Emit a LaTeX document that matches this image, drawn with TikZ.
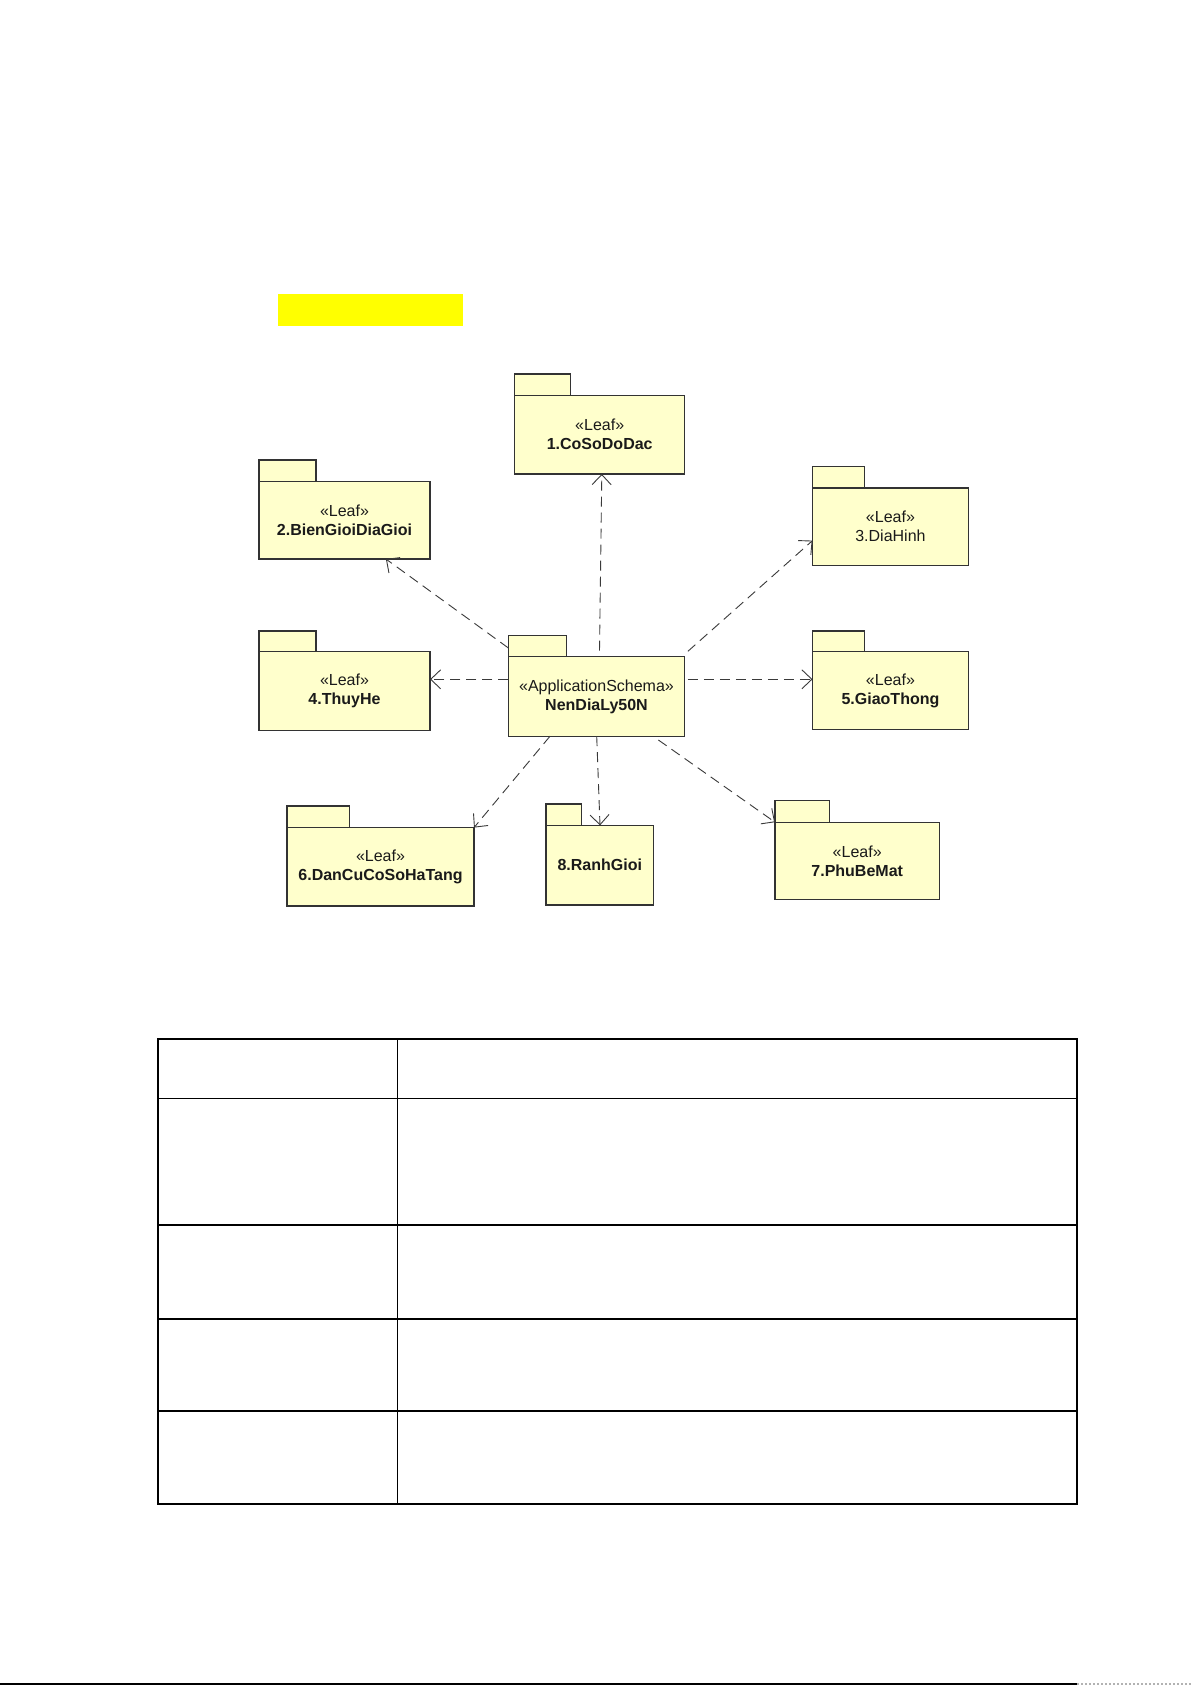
\documentclass[tikz,border=0pt]{standalone}
\usepackage{fontspec}
\setmainfont{Liberation Sans}
\usetikzlibrary{arrows.meta,calc}
\definecolor{pkgfill}{HTML}{FFFFCC}
\definecolor{pkgdraw}{HTML}{333333}
\definecolor{deplin}{HTML}{3A3A3A}
\definecolor{txtcol}{HTML}{1A1A1A}
\definecolor{hilite}{HTML}{FFFF00}
\tikzset{
  pkgbox/.style={draw=pkgdraw, fill=pkgfill, line width=1.15pt, anchor=north west,
    outer sep=0pt, inner sep=0pt, align=center, text=txtcol,
    font=\fontsize{16}{19}\selectfont},
  pkgtab/.style={draw=pkgdraw, fill=pkgfill, line width=1.15pt},
  dep/.style={draw=deplin, line width=0.9pt, dash pattern=on 10pt off 6pt,
    -{Straight Barb[length=10pt,width=19pt,line width=0.9pt]}},
  tbl/.style={draw=black, line width=1.6pt},
  tbldiv/.style={draw=black, line width=0.8pt}
}
\begin{document}
\begin{tikzpicture}[x=1pt,y=-1pt]
\useasboundingbox[fill=white] (0,0) rectangle (1192,1685);

% yellow highlight
\fill[hilite] (278,294) rectangle (463,325.7);

% packages (body node + tab)
\node[pkgbox, minimum width=169.8, minimum height=78.5] (p1) at (514.8,395.5) {«Leaf»\\\textbf{1.CoSoDoDac}};
\draw[pkgtab] (p1.north west) rectangle ++(56,-21.5);

\node[pkgbox, minimum width=171, minimum height=77.5] (p2) at (259,481.5) {«Leaf»\\\textbf{2.BienGioiDiaGioi}};
\draw[pkgtab] (p2.north west) rectangle ++(57,-21.5);

\node[pkgbox, minimum width=155.9, minimum height=77.3] (p3) at (812.5,488) {«Leaf»\\3.DiaHinh};
\draw[pkgtab] (p3.north west) rectangle ++(51.6,-21.5);

\node[pkgbox, minimum width=171, minimum height=79.6] (p4) at (259,651.3) {«Leaf»\\\textbf{4.ThuyHe}};
\draw[pkgtab] (p4.north west) rectangle ++(57,-20.3);

\node[pkgbox, minimum width=176.2, minimum height=79.5] (c) at (508.4,656.7) {«ApplicationSchema»\\\textbf{NenDiaLy50N}};
\draw[pkgtab] (c.north west) rectangle ++(58,-21.5);

\node[pkgbox, minimum width=155.9, minimum height=78.5] (p5) at (812.5,651.3) {«Leaf»\\\textbf{5.GiaoThong}};
\draw[pkgtab] (p5.north west) rectangle ++(51.6,-20.3);

\node[pkgbox, minimum width=187, minimum height=78.4] (p6) at (287,827.6) {«Leaf»\\\textbf{6.DanCuCoSoHaTang}};
\draw[pkgtab] (p6.north west) rectangle ++(62.3,-21.6);

\node[pkgbox, minimum width=107.5, minimum height=79.6] (p8) at (546,825.4) {\textbf{8.RanhGioi}};
\draw[pkgtab] (p8.north west) rectangle ++(35.5,-21.4);

\node[pkgbox, minimum width=164.4, minimum height=77.4] (p7) at (775,822.2) {«Leaf»\\\textbf{7.PhuBeMat}};
\draw[pkgtab] (p7.north west) rectangle ++(54.7,-21.5);

% dependencies
\draw[dep] ($(c.north)+(3,-6)$) -- ($(p1.south west)+(87,0)$);
\draw[dep] ($(c.north west)+(0,-8.7)$) -- ($(p2.south west)+(126.9,0)$);
\draw[dep] ($(c.north east)+(3.3,-5.4)$) -- ($(p3.north west)+(0,52.6)$);
\draw[dep] ($(c.north west)+(0,22.6)$) -- ($(p4.north east)+(0,28)$);
\draw[dep] ($(c.north east)+(3.3,22.6)$) -- ($(p5.north west)+(0,28)$);
\draw[dep] ($(c.south west)+(41.6,0)$) -- (p6.north east);
\draw[dep] ($(c.south west)+(88.3,0)$) -- ($(p8.north west)+(54,0)$);
\draw[dep] ($(c.south west)+(150,3.8)$) -- (p7.north west);

% table
\draw[tbl] (158,1039) rectangle (1077,1504);
\foreach \yy in {1098.5,1225,1319,1411}
  \draw[tbl] (158,\yy) -- (1077,\yy);
\draw[tbldiv] (397,1039) -- (397,1504);

% bottom rule
\draw[black, line width=1.5pt] (0,1684) -- (1077,1684);
\draw[gray!60, line width=1.5pt, dash pattern=on 2pt off 2pt] (1077,1684) -- (1192,1684);
\end{tikzpicture}
\end{document}
